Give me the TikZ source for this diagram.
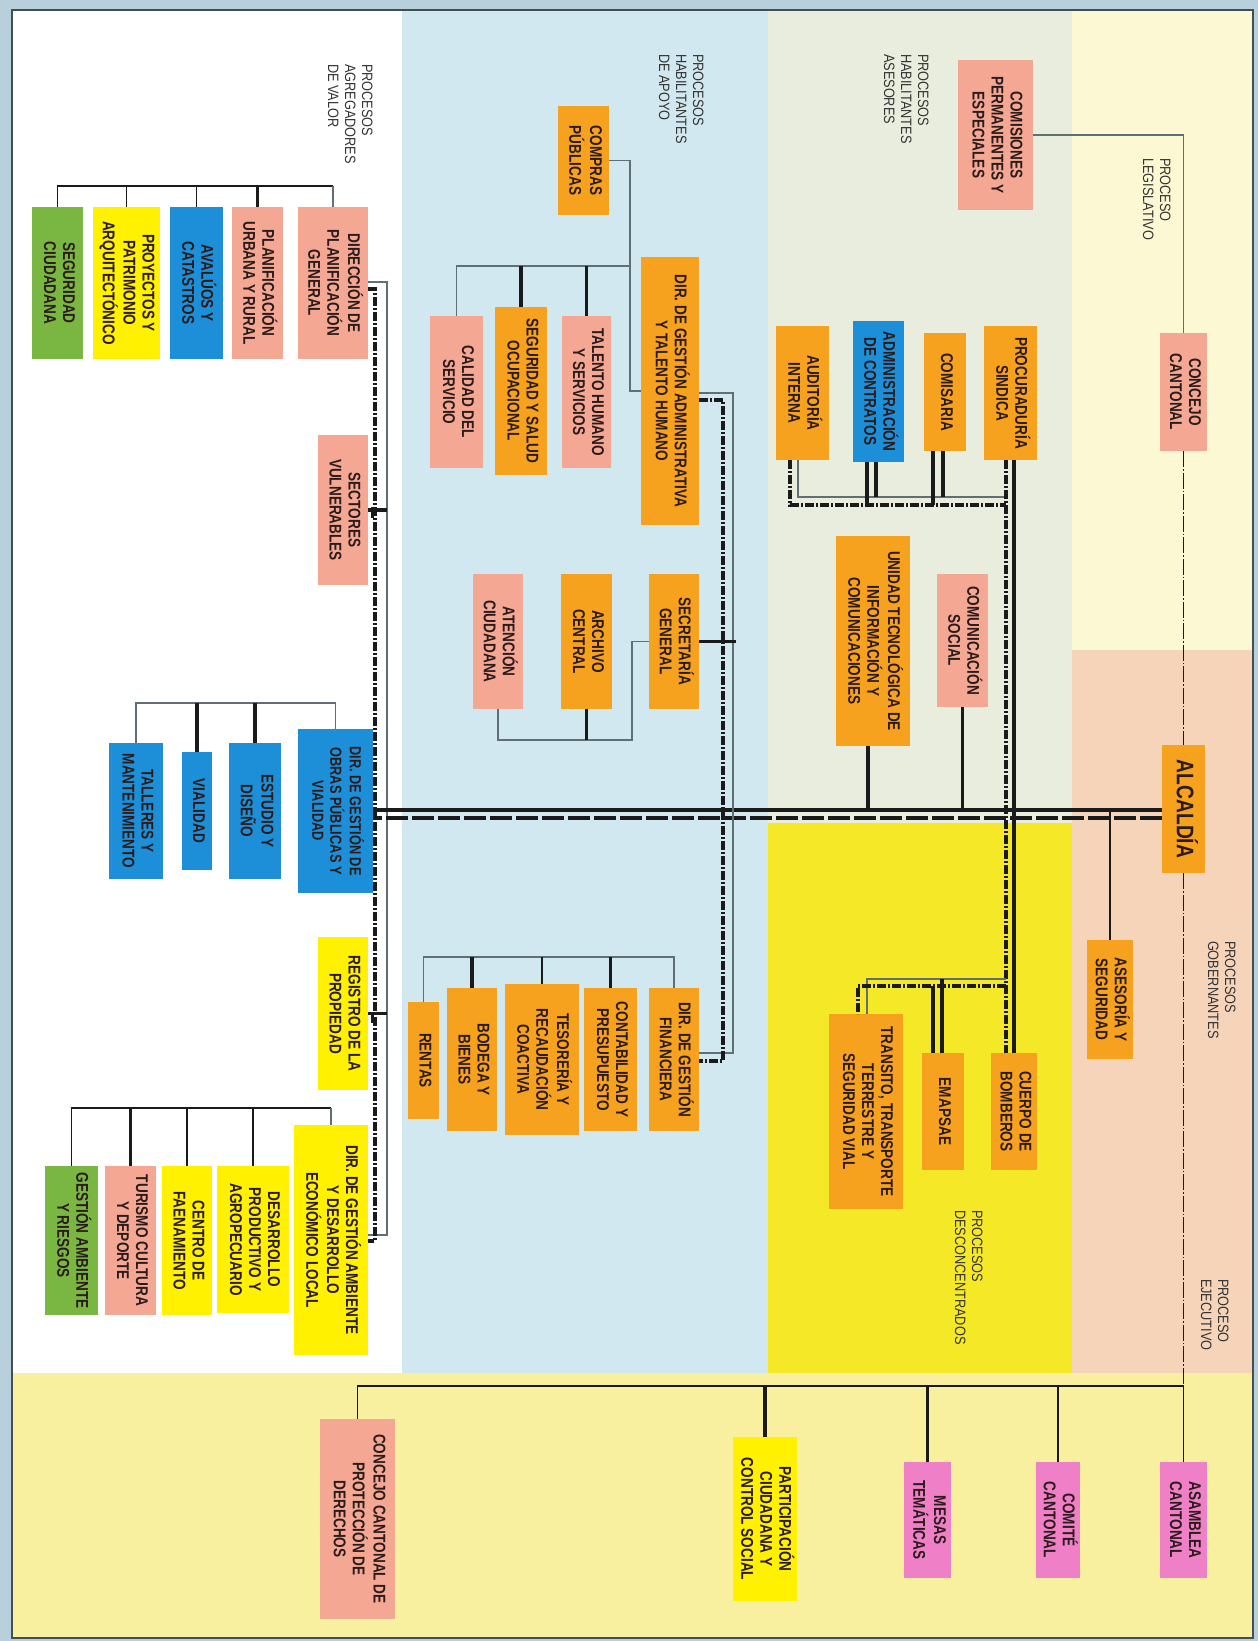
\documentclass[tikz,border=0pt]{standalone}
\usepackage{fontspec}
\usepackage{graphicx}
\newfontfamily\bxf[FakeStretch=0.8]{Liberation Sans}
\newfontfamily\lbf[FakeStretch=0.85]{Liberation Sans}
\definecolor{salmon}{HTML}{F4A893}
\definecolor{orng}{HTML}{F7A21E}
\definecolor{blu}{HTML}{1C8FD8}
\definecolor{yel}{HTML}{FFF100}
\definecolor{grn}{HTML}{7AB742}
\definecolor{mag}{HTML}{EF7FC6}
\definecolor{txt}{HTML}{2B1B1B}
\definecolor{lbtxt}{HTML}{333333}
\definecolor{ln}{HTML}{1A1A1A}
\definecolor{gln}{HTML}{5F6F74}
\definecolor{bgout}{HTML}{B8D0DC}
\definecolor{bwhite}{HTML}{FFFFFF}
\definecolor{bblue}{HTML}{D2E8F0}
\definecolor{bases}{HTML}{E9EDDE}
\definecolor{byel}{HTML}{F5E826}
\definecolor{bleg}{HTML}{FCF8D3}
\definecolor{bpeach}{HTML}{F6D4B9}
\definecolor{bbot}{HTML}{F9F09F}
\newcommand\bx[8][]{\node[obox,fill=#7,minimum width={#5-#3},minimum height={#6-#4},#1] (#2) at ({(#3+#5)/2},{(#4+#6)/2}) {\rotatebox{-90}{\begin{tabular}{@{}c@{}}#8\end{tabular}}};}
\newcommand\lb[4]{\node[lbl,anchor=north east] (#1) at (#2,#3) {\rotatebox{-90}{\begin{tabular}{@{}l@{}}#4\end{tabular}}};}
\begin{document}
\begin{tikzpicture}[x=1pt,y=-1pt,
  obox/.style={inner sep=0pt,outer sep=0pt,text=txt,font=\bxf\bfseries\fontsize{17}{19}\selectfont},
  lbl/.style={inner sep=0pt,outer sep=0pt,text=lbtxt,font=\lbf\fontsize{15}{17}\selectfont},
  thk/.style={draw=ln,line width=3.5pt},
  med/.style={draw=ln,line width=1.8pt},
  thg/.style={draw=gln,line width=1.3pt},
  ddl/.style={draw=ln,line width=3.5pt,dash pattern=on 9pt off 2pt on 2pt off 2pt},
  mdl/.style={draw=ln,line width=3.5pt,dash pattern=on 22pt off 4pt},
  tdl/.style={draw=ln,line width=1.3pt,dash pattern=on 16pt off 2pt on 1.5pt off 2pt}]
\useasboundingbox (0,0) rectangle (1258,1641);
% background and bands
\fill[bgout] (0,0) rectangle (1258,1641);
\fill[bwhite] (12,10) rectangle (402,1373);
\fill[bblue] (402,10) rectangle (768,1374);
\fill[bases] (768,10) rectangle (1072,823);
\fill[byel] (768,823) rectangle (1072,1374);
\fill[bleg] (1072,10) rectangle (1253,650);
\fill[bpeach] (1072,650) rectangle (1253,1373);
\fill[bbot] (12,1373) rectangle (1253,1638);
\draw[draw=gln!70!black,line width=1.5pt] (12,10) rectangle (1253,1638);
% section labels
\lb{l1}{374}{64}{PROCESOS\\AGREGADORES\\DE VALOR}
\lb{l2}{705}{54}{PROCESOS\\HABILITANTES\\DE APOYO}
\lb{l3}{930}{54}{PROCESOS\\HABILITANTES\\ASESORES}
\lb{l4}{1172}{158}{PROCESO\\LEGISLATIVO}
\lb{l5}{1237}{941}{PROCESOS\\GOBERNANTES}
\lb{l6}{1230}{1279}{PROCESO\\EJECUTIVO}
\lb{l7}{984}{1210}{PROCESOS\\DESCONCENTRADOS}
% agregadores de valor
\bx{dpg}{298}{207}{368}{359}{salmon}{DIRECCIÓN DE\\PLANIFICACIÓN\\GENERAL}
\bx{pur}{232}{207}{283}{359}{salmon}{PLANIFICACIÓN\\URBANA Y RURAL}
\bx{ava}{170}{207}{223}{359}{blu}{AVALÚOS Y\\CATASTROS}
\bx{ppa}{93}{207}{160}{359}{yel}{PROYECTOS Y\\PATRIMONIO\\ARQUITECTÓNICO}
\bx{sc}{32}{207}{83}{359}{grn}{SEGURIDAD\\CIUDADANA}
\bx{sv}{318}{435}{368}{585}{salmon}{SECTORES\\VULNERABLES}
\bx[font=\bxf\bfseries\fontsize{16}{18}\selectfont]{dop}{298}{729}{373}{893}{blu}{DIR. DE GESTIÓN DE\\OBRAS PÚBLICAS Y\\VIALIDAD}
\bx{eyd}{229}{743}{281}{879}{blu}{ESTUDIO Y\\DISEÑO}
\bx{via}{182}{752}{212}{870}{blu}{VIALIDAD}
\bx{tym}{109}{743}{163}{879}{blu}{TALLERES Y\\MANTENIMIENTO}
\bx{rp}{318}{937}{368}{1090}{yel}{REGISTRO DE LA\\PROPIEDAD}
\bx{dge}{294}{1125}{368}{1355}{yel}{DIR. DE GESTIÓN AMBIENTE\\Y DESARROLLO\\ECONÓMICO LOCAL}
\bx{dpa}{217}{1166}{289}{1313}{yel}{DESARROLLO\\PRODUCTIVO Y\\AGROPECUARIO}
\bx{cf}{162}{1166}{212}{1315}{yel}{CENTRO DE\\FAENAMIENTO}
\bx{tcd}{105}{1166}{156}{1315}{salmon}{TURISMO CULTURA\\Y DEPORTE}
\bx{gar}{45}{1166}{98}{1315}{grn}{GESTIÓN AMBIENTE\\Y RIESGOS}
% apoyo
\bx{cp}{558}{106}{609}{215}{orng}{COMPRAS\\PÚBLICAS}
\bx{dga}{641}{257}{699}{525}{orng}{DIR. DE GESTIÓN ADMINISTRATIVA\\Y TALENTO HUMANO}
\bx{ths}{562}{316}{611}{468}{salmon}{TALENTO HUMANO\\Y SERVICIOS}
\bx{sso}{495}{307}{547}{475}{orng}{SEGURIDAD Y SALUD\\OCUPACIONAL}
\bx{cds}{430}{316}{483}{468}{salmon}{CALIDAD DEL\\SERVICIO}
\bx{sg}{649}{574}{699}{709}{orng}{SECRETARÍA\\GENERAL}
\bx{ac}{561}{574}{612}{709}{orng}{ARCHIVO\\CENTRAL}
\bx{atc}{473}{574}{523}{709}{salmon}{ATENCIÓN\\CIUDADANA}
\bx{dgf}{649}{988}{699}{1131}{orng}{DIR. DE GESTIÓN\\FINANCIERA}
\bx{cyp}{584}{988}{637}{1131}{orng}{CONTABILIDAD Y\\PRESUPUESTO}
\bx{trc}{505}{984}{579}{1135}{orng}{TESORERÍA Y\\RECAUDACIÓN\\COACTIVA}
\bx{byb}{447}{988}{497}{1131}{orng}{BODEGA Y\\BIENES}
\bx{ren}{408}{1002}{439}{1119}{orng}{RENTAS}
% asesores
\bx{cpe}{958}{60}{1033}{210}{salmon}{COMISIONES\\PERMANENTES Y\\ESPECIALES}
\bx{ai}{776}{326}{829}{460}{orng}{AUDITORÍA\\INTERNA}
\bx{adc}{853}{321}{904}{462}{blu}{ADMINISTRACIÓN\\DE CONTRATOS}
\bx{com}{924}{333}{966}{451}{orng}{COMISARIA}
\bx{ps}{984}{326}{1037}{460}{orng}{PROCURADURÍA\\SINDICA}
\bx{cso}{937}{574}{988}{707}{salmon}{COMUNICACIÓN\\SOCIAL}
\bx{utic}{836}{536}{910}{746}{orng}{UNIDAD TECNOLÓGICA DE\\INFORMACIÓN Y\\COMUNICACIONES}
% desconcentrados
\bx{cb}{991}{1053}{1037}{1170}{orng}{CUERPO DE\\BOMBEROS}
\bx{ema}{922}{1053}{964}{1170}{orng}{EMAPSAE}
\bx{tts}{829}{1014}{903}{1209}{orng}{TRANSITO, TRANSPORTE\\TERRESTRE Y\\SEGURIDAD VIAL}
% legislativo / ejecutivo
\bx{cc}{1160}{333}{1207}{451}{salmon}{CONCEJO\\CANTONAL}
\bx[font=\bxf\bfseries\fontsize{24}{26}\selectfont]{alc}{1162}{745}{1205}{873}{orng}{ALCALDÍA}
\bx{ays}{1087}{940}{1133}{1059}{orng}{ASESORÍA Y\\SEGURIDAD}
% participacion
\bx{cpd}{320}{1419}{395}{1619}{salmon}{CONCEJO CANTONAL DE\\PROTECCIÓN DE\\DERECHOS}
\bx{pcs}{733}{1437}{797}{1601}{yel}{PARTICIPACIÓN\\CIUDADANA Y\\CONTROL SOCIAL}
\bx{mt}{904}{1462}{951}{1578}{mag}{MESAS\\TEMÁTICAS}
\bx{cmc}{1036}{1462}{1080}{1578}{mag}{COMITÉ\\CANTONAL}
\bx{asc}{1160}{1462}{1207}{1578}{mag}{ASAMBLEA\\CANTONAL}
% helper coordinates
\coordinate (agT) at (0,186);
\coordinate (agM) at (0,703);
\coordinate (agB) at (0,1108);
\coordinate (gbx) at (387,0);
\coordinate (dbx) at (375,0);
\coordinate (lbT) at (0,282);
\coordinate (lbD) at (0,289);
\coordinate (lbBg) at (0,1235);
\coordinate (lbBd) at (0,1241);
\coordinate (ml) at (0,810);
\coordinate (md) at (0,818);
\coordinate (cpx) at (630,0);
\coordinate (apT) at (0,266);
\coordinate (abg) at (733,0);
\coordinate (abd) at (723,0);
\coordinate (abT) at (0,393);
\coordinate (abTd) at (0,400);
\coordinate (abB) at (0,1053);
\coordinate (abBd) at (0,1061);
\coordinate (sgx) at (632,0);
\coordinate (sgB) at (0,740);
\coordinate (fin) at (0,957);
\coordinate (asg) at (0,497);
\coordinate (asd) at (0,505);
\coordinate (aiD) at (790,0);
\coordinate (aiG) at (798,0);
\coordinate (adc1) at (867,0);
\coordinate (adc2) at (876,0);
\coordinate (com1) at (933,0);
\coordinate (com2) at (943,0);
\coordinate (bsd) at (1006,0);
\coordinate (bss) at (1014,0);
\coordinate (dsg) at (0,979);
\coordinate (dsd) at (0,986);
\coordinate (tg) at (867,0);
\coordinate (td) at (858,0);
\coordinate (em1) at (933,0);
\coordinate (em2) at (942,0);
\coordinate (uticx) at (868,0);
\coordinate (lgx) at (1183.5,0);
\coordinate (btm) at (0,1386);
% agregadores connectors
\draw[med] (sc.north) -- (sc.north |- agT) -- (dpg.north |- agT);
\draw[thg] (dpg.north |- agT) -- (dpg.north);
\draw[thk] (pur.north |- agT) -- (pur.north);
\draw[med] (ava.north |- agT) -- (ava.north);
\draw[med] (ppa.north |- agT) -- (ppa.north);
\draw[thg] (dpg.east |- lbT) -- (gbx |- lbT) -- (gbx |- lbBg) -- (dge.east |- lbBg);
\draw[ddl] (dpg.east |- lbD) -- (dbx |- lbD) -- (dbx |- lbBd) -- (dge.east |- lbBd);
\draw[thk] (sv.east) -- (sv.east -| gbx);
\draw[draw=ln,line width=3pt] ([xshift=4pt,yshift=3pt]sv.east) -- ([xshift=4pt,yshift=-8pt]sv.east);
\draw[thk] (rp.east) -- (rp.east -| gbx);
\draw[draw=ln,line width=3pt] ([xshift=4pt,yshift=1pt]rp.east) -- ([xshift=4pt,yshift=-9pt]rp.east);
\draw[thg] (tym.north) -- (tym.north |- agM) -- (dop.north |- agM) -- (dop.north);
\draw[thk] (eyd.north |- agM) -- (eyd.north);
\draw[thk] (via.north |- agM) -- (via.north);
\draw[med] (gar.north) -- (gar.north |- agB) -- (dge.north |- agB);
\draw[thg] (dge.north |- agB) -- (dge.north);
\draw[med] (dpa.north |- agB) -- (dpa.north);
\draw[med] (cf.north |- agB) -- (cf.north);
\draw[thk] (tcd.north |- agB) -- (tcd.north);
% main line
\draw[thk] (alc.west |- ml) -- (dop.east |- ml);
\draw[mdl] (alc.west |- md) -- (dop.east |- md);
% apoyo connectors
\draw[thg] (cp.east) -- (cp.east -| cpx) -- (cpx |- dga.west) -- (dga.west);
\draw[thg] (cds.north) -- (cds.north |- apT) -- (cpx |- apT);
\draw[thk] (ths.north |- apT) -- (ths.north);
\draw[thk] (sso.north |- apT) -- (sso.north);
\draw[thg] (dga.east |- abT) -- (abg |- abT) -- (abg |- abB) -- (dgf.east |- abB);
\draw[ddl] (dga.east |- abTd) -- (abd |- abTd) -- (abd |- abBd) -- (dgf.east |- abBd);
\draw[thk] (sg.east) -- ([xshift=3pt]sg.east -| abg);
\draw[thg] (sg.west) -- (sg.west -| sgx) -- (sgx |- sgB) -- (atc.south |- sgB) -- (atc.south);
\draw[thk] (ac.south) -- (ac.south |- sgB);
\draw[thg] (ren.north) -- (ren.north |- fin) -- (dgf.north |- fin) -- (dgf.north);
\draw[thk] (cyp.north |- fin) -- (cyp.north);
\draw[med] (trc.north |- fin) -- (trc.north);
\draw[thk] (byb.north |- fin) -- (byb.north);
% asesores connectors
\draw[ddl] (aiD |- ai.south) -- (aiD |- asd) -- (bsd |- asd);
\draw[thg] (aiG |- ai.south) -- (aiG |- asg) -- (bsd |- asg);
\draw[thk] (adc1 |- adc.south) -- (adc1 |- asd);
\draw[thk] (adc2 |- adc.south) -- (adc2 |- asg);
\draw[thk] (com1 |- com.south) -- (com1 |- asd);
\draw[thk] (com2 |- com.south) -- (com2 |- asg);
\draw[ddl] (bsd |- ps.south) -- (bsd |- cb.north);
\draw[thk] (bss |- ps.south) -- (bss |- cb.north);
\draw[thk] (cso.south) -- (cso.south |- ml);
\draw[thk] (uticx |- utic.south) -- (uticx |- ml);
% desconcentrados
\draw[thg] (bsd |- dsg) -- (tg |- dsg) -- (tg |- tts.north);
\draw[ddl] (bsd |- dsd) -- (td |- dsd) -- (td |- tts.north);
\draw[thk] (em1 |- dsd) -- (em1 |- ema.north);
\draw[thk] (em2 |- dsg) -- (em2 |- ema.north);
\draw[med] (ays.north |- ml) -- (ays.north);
% legislativo / ejecutivo / participacion
\draw[thg] (cpe.east) -- (cpe.east -| lgx) -- (cc.north);
\draw[tdl] (cc.south) -- (alc.north);
\draw[tdl] (alc.south) -- (alc.south |- btm);
\draw[draw=ln,line width=1.3pt] (alc.south |- btm) -- (asc.north);
\draw[med] (lgx |- btm) -- (cpd.north |- btm) -- (cpd.north);
\draw[med] (cmc.north |- btm) -- (cmc.north);
\draw[thk] (mt.north |- btm) -- (mt.north);
\draw[thk] (pcs.north |- btm) -- (pcs.north);
\end{tikzpicture}
\end{document}
